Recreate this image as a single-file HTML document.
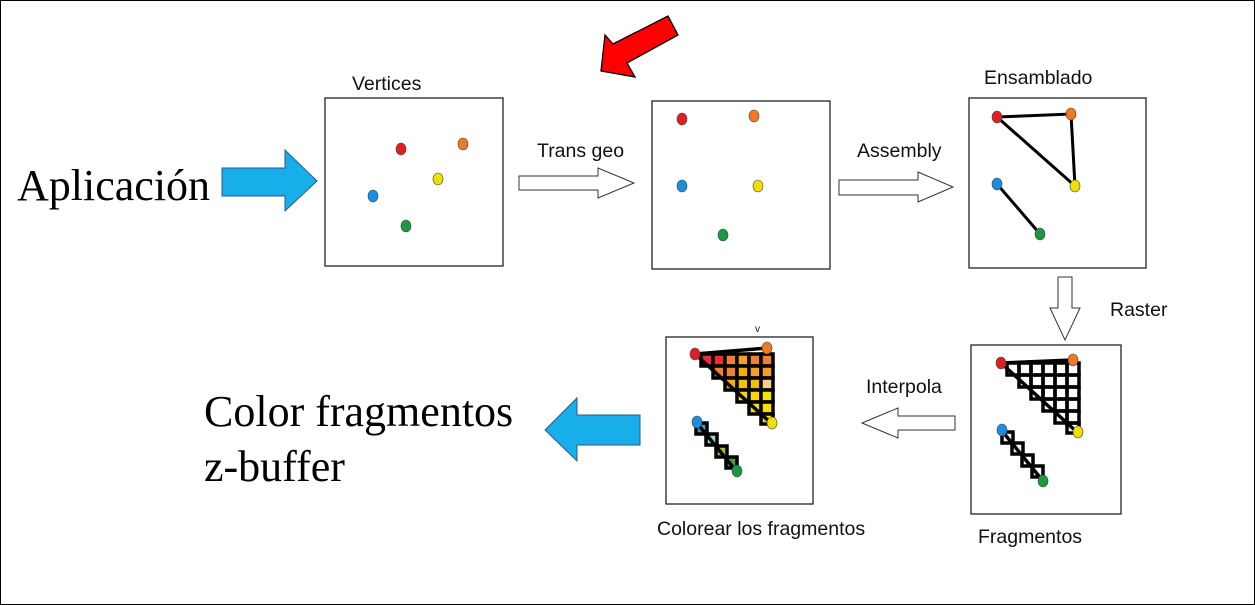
<!DOCTYPE html>
<html><head><meta charset="utf-8"><style>
html,body{margin:0;padding:0;background:#fff}
svg{display:block}
.s{font-family:"Liberation Sans","DejaVu Sans",sans-serif;font-size:19.5px;fill:#111}
.t{font-family:"Liberation Serif",serif;font-size:44px;fill:#000}
</style></head><body>
<svg width="1255" height="605" viewBox="0 0 1255 605" xmlns="http://www.w3.org/2000/svg">
<rect x="0.5" y="0.5" width="1254" height="604" fill="#fff" stroke="#000"/>
<g fill="none" stroke="#222" stroke-width="1.3">
<rect x="325" y="98" width="178" height="168"/>
<rect x="652" y="101" width="178" height="168"/>
<rect x="969" y="98" width="177" height="170"/>
<rect x="971" y="345" width="150" height="169"/>
<rect x="666" y="337" width="147" height="167"/>
</g>
<text class="s" x="352" y="90">Vertices</text>
<text class="s" x="537" y="157">Trans geo</text>
<text class="s" x="857" y="157">Assembly</text>
<text class="s" x="984" y="84">Ensamblado</text>
<text class="s" x="1110" y="316">Raster</text>
<text class="s" x="866" y="393">Interpola</text>
<text class="s" x="657" y="535">Colorear los fragmentos</text>
<text class="s" x="978" y="543">Fragmentos</text>
<text class="s" x="755" y="332" style="font-size:10px">v</text>
<text class="t" x="17" y="200">Aplicación</text>
<text class="t" x="204" y="426">Color fragmentos</text>
<text class="t" x="204" y="481">z-buffer</text>
<polygon points="222,168 285,168 285,150 317,181 285,211 285,196 222,196" fill="#17aeea" stroke="#2a5a8a" stroke-width="1"/>
<polygon points="640,415 577,415 577,398 545,430 577,461 577,445 640,445" fill="#17aeea" stroke="#2a5a8a" stroke-width="1"/>
<polygon points="601,71 605,35 613,44 668,16 678,35 627,63 635,77" fill="#f00" stroke="#000" stroke-width="1.3"/>
<g fill="#fff" stroke="#333" stroke-width="1">
<polygon points="519,176 598,176 598,168 634,183 598,198 598,190 519,190"/>
<polygon points="839,180 918,180 918,172 953,187 918,202 918,195 839,195"/>
<polygon points="1058,277 1072,277 1072,308 1080,308 1065,340 1050,308 1058,308"/>
<polygon points="955,416 898,416 898,408 862,423 898,438 898,430 955,430"/>
</g>
<g stroke="#444" stroke-width="0.6">
<ellipse cx="401" cy="149" rx="5" ry="6" fill="#e02020"/>
<ellipse cx="463" cy="144" rx="5" ry="6" fill="#f07a20"/>
<ellipse cx="438" cy="179" rx="5" ry="6" fill="#f0e000"/>
<ellipse cx="373" cy="196" rx="5" ry="6" fill="#1a8ee0"/>
<ellipse cx="406" cy="226" rx="5" ry="6" fill="#1a9a40"/>
<ellipse cx="682" cy="119" rx="5" ry="6" fill="#e02020"/>
<ellipse cx="754" cy="116" rx="5" ry="6" fill="#f07a20"/>
<ellipse cx="758" cy="186" rx="5" ry="6" fill="#f0e000"/>
<ellipse cx="682" cy="186" rx="5" ry="6" fill="#1a8ee0"/>
<ellipse cx="723" cy="235" rx="5" ry="6" fill="#1a9a40"/>
</g>
<g stroke="#000" stroke-width="3" fill="none">
<polygon points="997,117 1071,114 1075,186"/>
<line x1="997" y1="184" x2="1040" y2="234"/>
</g>
<g stroke="#444" stroke-width="0.6">
<ellipse cx="997" cy="117" rx="5" ry="6" fill="#e02020"/>
<ellipse cx="1071" cy="114" rx="5" ry="6" fill="#f07a20"/>
<ellipse cx="1075" cy="186" rx="5" ry="6" fill="#f0e000"/>
<ellipse cx="997" cy="184" rx="5" ry="6" fill="#1a8ee0"/>
<ellipse cx="1040" cy="234" rx="5" ry="6" fill="#1a9a40"/>
</g>
<g transform="translate(1001,363)">
<g fill="none" stroke="#000" stroke-width="3.5">
<rect x="6" y="0" width="12" height="12"/><rect x="18" y="0" width="12" height="12"/><rect x="30" y="0" width="12" height="12"/><rect x="42" y="0" width="12" height="12"/><rect x="54" y="0" width="12" height="12"/><rect x="66" y="0" width="12" height="12"/>
<rect x="18" y="12" width="12" height="12"/><rect x="30" y="12" width="12" height="12"/><rect x="42" y="12" width="12" height="12"/><rect x="54" y="12" width="12" height="12"/><rect x="66" y="12" width="12" height="12"/>
<rect x="30" y="24" width="12" height="12"/><rect x="42" y="24" width="12" height="12"/><rect x="54" y="24" width="12" height="12"/><rect x="66" y="24" width="12" height="12"/>
<rect x="42" y="36" width="12" height="12"/><rect x="54" y="36" width="12" height="12"/><rect x="66" y="36" width="12" height="12"/>
<rect x="54" y="48" width="12" height="12"/><rect x="66" y="48" width="12" height="12"/>
<rect x="66" y="60" width="12" height="10"/>
<line x1="0" y1="0" x2="77" y2="70"/><line x1="0" y1="0" x2="72" y2="-3"/>
<rect x="1" y="69" width="11" height="11"/><rect x="11" y="80" width="11" height="11"/><rect x="21" y="92" width="11" height="11"/><rect x="31" y="103" width="11" height="11"/>
<line x1="1" y1="68" x2="42" y2="118"/>
</g>
<g stroke="#444" stroke-width="0.6">
<ellipse cx="0" cy="0" rx="5" ry="6" fill="#e02020"/>
<ellipse cx="72" cy="-3" rx="5" ry="6" fill="#f07a20"/>
<ellipse cx="77" cy="69" rx="5" ry="6" fill="#f0e000"/>
<ellipse cx="1" cy="67" rx="5" ry="6" fill="#1a8ee0"/>
<ellipse cx="42" cy="118" rx="5" ry="6" fill="#1a9a40"/>
</g>
</g>
<g transform="translate(695,354)">
<g stroke="#000" stroke-width="3.5">
<rect x="6" y="0" width="12" height="12" fill="#e83030"/><rect x="18" y="0" width="12" height="12" fill="#e83030"/><rect x="30" y="0" width="12" height="12" fill="#f08030"/><rect x="42" y="0" width="12" height="12" fill="#f5a020"/><rect x="54" y="0" width="12" height="12" fill="#f08030"/><rect x="66" y="0" width="12" height="12" fill="#f08030"/>
<rect x="18" y="12" width="12" height="12" fill="#f08030"/><rect x="30" y="12" width="12" height="12" fill="#f08030"/><rect x="42" y="12" width="12" height="12" fill="#f5b000"/><rect x="54" y="12" width="12" height="12" fill="#f5a020"/><rect x="66" y="12" width="12" height="12" fill="#f5a020"/>
<rect x="30" y="24" width="12" height="12" fill="#f5b000"/><rect x="42" y="24" width="12" height="12" fill="#f5c000"/><rect x="54" y="24" width="12" height="12" fill="#f5c000"/><rect x="66" y="24" width="12" height="12" fill="#f5d080"/>
<rect x="42" y="36" width="12" height="12" fill="#f8d800"/><rect x="54" y="36" width="12" height="12" fill="#f8d800"/><rect x="66" y="36" width="12" height="12" fill="#f8e000"/>
<rect x="54" y="48" width="12" height="12" fill="#f8e000"/><rect x="66" y="48" width="12" height="12" fill="#f8e000"/>
<rect x="66" y="60" width="12" height="10" fill="#f8e000"/>
<rect x="1" y="69" width="11" height="11" fill="#3a9ad8"/><rect x="11" y="80" width="11" height="11" fill="#a0d0d8"/><rect x="21" y="92" width="11" height="11" fill="#a0c820"/><rect x="31" y="103" width="11" height="11" fill="#40a040"/>
<line x1="0" y1="0" x2="77" y2="70"/><line x1="0" y1="0" x2="72" y2="-6"/>
<line x1="1" y1="68" x2="42" y2="118"/>
</g>
<g stroke="#444" stroke-width="0.6">
<ellipse cx="0" cy="0" rx="5" ry="6" fill="#e02020"/>
<ellipse cx="72" cy="-6" rx="5" ry="6" fill="#f07a20"/>
<ellipse cx="77" cy="69" rx="5" ry="6" fill="#f0e000"/>
<ellipse cx="2" cy="68" rx="5" ry="6" fill="#1a8ee0"/>
<ellipse cx="42" cy="117" rx="5" ry="6" fill="#1a9a40"/>
</g>
</g>
</svg>
</body></html>
